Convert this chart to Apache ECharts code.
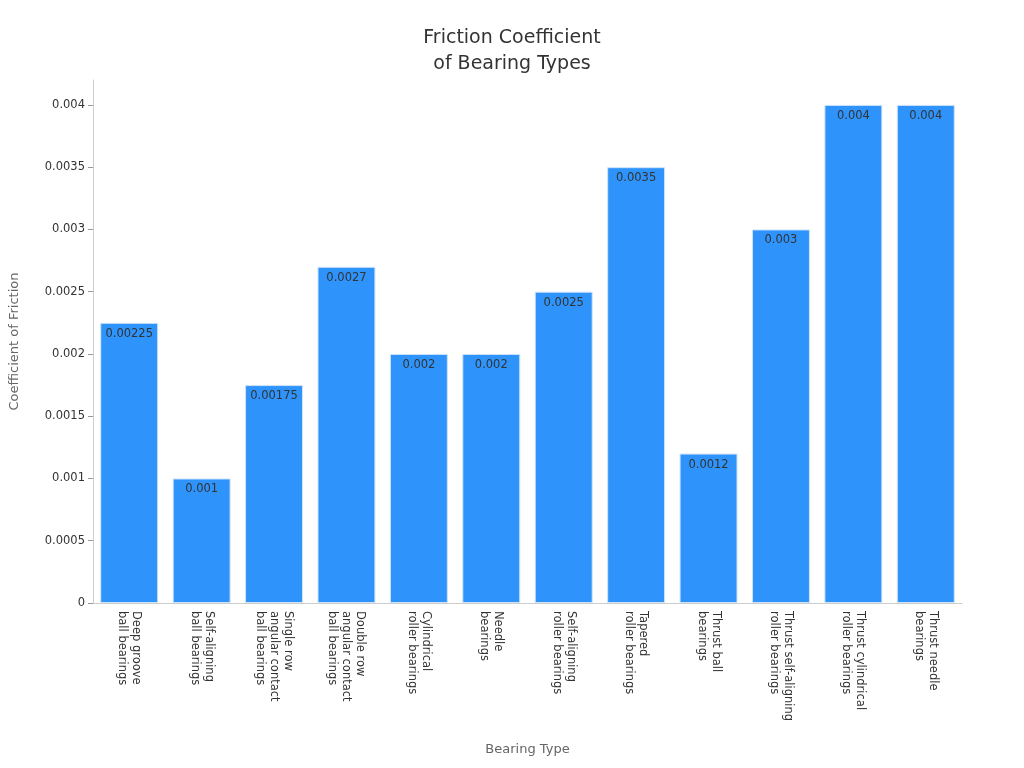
<!DOCTYPE html>
<html><head><meta charset="utf-8">
<script src="https://cdn.jsdelivr.net/npm/echarts@6/dist/echarts.min.js"></script>
<style>html,body{margin:0;padding:0;background:#fff}#c{width:1024px;height:768px}</style>
</head><body><div id="c"></div>
<script>
const categories = ["Deep groove\nball bearings","Self-aligning\nball bearings","Single row\nangular contact\nball bearings","Double row\nangular contact\nball bearings","Cylindrical\nroller bearings","Needle\nbearings","Self-aligning\nroller bearings","Tapered\nroller bearings","Thrust ball\nbearings","Thrust self-aligning\nroller bearings","Thrust cylindrical\nroller bearings","Thrust needle\nbearings"];
const values = [0.00225,0.001,0.00175,0.0027,0.002,0.002,0.0025,0.0035,0.0012,0.003,0.004,0.004];
const chart = echarts.init(document.getElementById('c'));
chart.setOption({
  textStyle:{fontFamily:'DejaVu Sans'},
  title:{text:'Friction Coefficient\nof Bearing Types',left:'center',top:20,textStyle:{fontSize:19,fontWeight:'normal',color:'#333',lineHeight:26}},
  grid:{left:88,right:62,top:80,bottom:165},
  xAxis:{type:'category',data:categories,name:'Bearing Type',nameLocation:'middle',nameGap:140,
    nameTextStyle:{color:'#666',fontSize:13},
    axisLine:{lineStyle:{color:'#ccc'}},axisTick:{alignWithLabel:true,lineStyle:{color:'#999'}},
    axisLabel:{rotate:-90,interval:0,color:'#333',fontSize:11.5,lineHeight:14,align:'left',verticalAlign:'middle'}},
  yAxis:{type:'value',min:0,max:0.0042,interval:0.0005,name:'Coefficient of Friction',nameLocation:'middle',nameGap:72,
    nameTextStyle:{color:'#666',fontSize:13},
    axisLine:{show:true,lineStyle:{color:'#ccc'}},axisTick:{show:true,lineStyle:{color:'#999'}},splitLine:{show:false},
    axisLabel:{color:'#333',fontSize:11.5,showMaxLabel:false,formatter:v=>String(+v.toFixed(5))}},
  series:[{type:'bar',data:values,barCategoryGap:'20%',
    itemStyle:{color:'#2E93FA',borderColor:'#cfe3fb',borderWidth:1},
    label:{show:true,position:'insideTop',color:'#333',fontSize:11.5,formatter:p=>String(p.value)}}]
});
</script></body></html>
